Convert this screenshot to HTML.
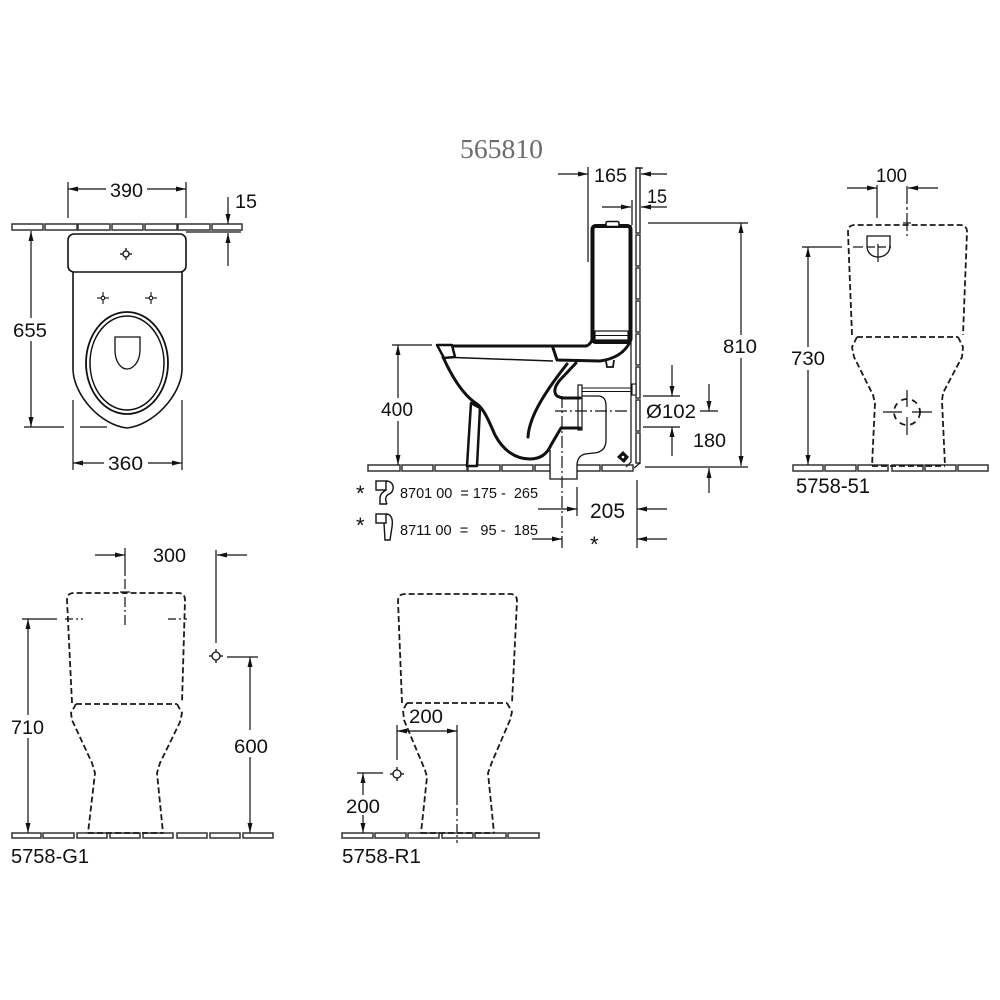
<!DOCTYPE html>
<html><head><meta charset="utf-8">
<style>
html,body{margin:0;padding:0;background:#fff;}
svg{display:block;}
text{font-family:"Liberation Sans",Arial,sans-serif;fill:#111;white-space:pre;}
.d{stroke:#111;stroke-width:1.2;fill:none;}
.ds{stroke:#1a1a1a;stroke-width:1.8;stroke-dasharray:6 3;fill:none;}
.dd{stroke:#111;stroke-width:1.2;stroke-dasharray:12 3 2 3;fill:none;}
.t{stroke:#111;stroke-width:3;fill:none;stroke-linejoin:round;stroke-linecap:round;}
.f{fill:#fff;stroke:#333;stroke-width:1.5;}
</style></head><body>
<svg width="1000" height="1000" viewBox="0 0 1000 1000" xmlns="http://www.w3.org/2000/svg">
<defs>
<marker id="ar" markerWidth="10" markerHeight="6" refX="10" refY="3" orient="auto" markerUnits="userSpaceOnUse"><path d="M0,0.5 L10,3 L0,5.5 z" fill="#111"/></marker>
</defs>

<!-- ================= PLAN VIEW (top-left) ================= -->
<g>
<rect class="f" x="12" y="224" width="31" height="6"/>
<rect class="f" x="45" y="224" width="32" height="6"/>
<rect class="f" x="78" y="224" width="32" height="6"/>
<rect class="f" x="112" y="224" width="31" height="6"/>
<rect class="f" x="145" y="224" width="32" height="6"/>
<rect class="f" x="178" y="224" width="32" height="6"/>
<rect class="f" x="212" y="224" width="30" height="6"/>
</g>
<rect x="68" y="234" width="118" height="38" rx="6" fill="#fff" stroke="#111" stroke-width="1.6"/>
<g stroke="#111" stroke-width="1.3" fill="none">
<circle cx="126" cy="254" r="3"/>
<line x1="126" y1="248" x2="126" y2="251"/><line x1="126" y1="257" x2="126" y2="260"/>
<line x1="120" y1="254" x2="123" y2="254"/><line x1="129" y1="254" x2="132" y2="254"/>
</g>
<path d="M73 272 L73 370 C74 395 100 425 127 428 C154 425 181 395 182 370 L182 272" fill="none" stroke="#111" stroke-width="1.6"/>
<ellipse cx="127" cy="363" rx="41" ry="51" fill="none" stroke="#111" stroke-width="1.8"/>
<ellipse cx="127" cy="363" rx="37" ry="47" fill="none" stroke="#111" stroke-width="1.5"/>
<path d="M115 337 L140 337 L140 350 C140 362 133 369 127 369 C121 369 115 362 115 350 Z" fill="none" stroke="#111" stroke-width="1.3"/>
<g stroke="#111" stroke-width="1.1" fill="none">
<line x1="97" y1="298" x2="109" y2="298"/><line x1="103" y1="292" x2="103" y2="304"/>
<line x1="145" y1="298" x2="157" y2="298"/><line x1="151" y1="292" x2="151" y2="304"/>
<circle cx="103" cy="298" r="1.8" fill="#fff"/><circle cx="151" cy="298" r="1.8" fill="#fff"/>
</g>
<!-- plan dims -->
<g class="d">
<line x1="68" y1="182" x2="68" y2="218"/><line x1="186" y1="182" x2="186" y2="218"/>
<line x1="106" y1="189" x2="68" y2="189" marker-end="url(#ar)"/>
<line x1="147" y1="189" x2="186" y2="189" marker-end="url(#ar)"/>
<line x1="228" y1="197" x2="228" y2="224" marker-end="url(#ar)"/>
<line x1="228" y1="266" x2="228" y2="233" marker-end="url(#ar)"/>
<line x1="186" y1="232" x2="241" y2="232"/>
<line x1="31" y1="318" x2="31" y2="231" marker-end="url(#ar)"/>
<line x1="31" y1="341" x2="31" y2="427" marker-end="url(#ar)"/>
<line x1="24" y1="427" x2="64" y2="427"/><line x1="80" y1="427" x2="107" y2="427"/>
<line x1="73" y1="400" x2="73" y2="470"/><line x1="182" y1="400" x2="182" y2="470"/>
<line x1="104" y1="463" x2="73" y2="463" marker-end="url(#ar)"/>
<line x1="148" y1="463" x2="182" y2="463" marker-end="url(#ar)"/>
</g>
<text x="110" y="197" font-size="19" textLength="33" lengthAdjust="spacingAndGlyphs">390</text>
<text x="235" y="208" font-size="19" textLength="22" lengthAdjust="spacingAndGlyphs">15</text>
<text x="13" y="337" font-size="19" textLength="34" lengthAdjust="spacingAndGlyphs">655</text>
<text x="108" y="470" font-size="19" textLength="35" lengthAdjust="spacingAndGlyphs">360</text>

<!-- ================= SIDE VIEW (middle) ================= -->
<text x="460" y="158" font-size="27" textLength="83" lengthAdjust="spacingAndGlyphs" style="font-family:'Liberation Serif',serif;fill:#6b6b6b;">565810</text>

<!-- floor -->
<g>
<rect class="f" x="368" y="465" width="32" height="6"/>
<rect class="f" x="402" y="465" width="31" height="6"/>
<rect class="f" x="435" y="465" width="32" height="6"/>
<rect class="f" x="468" y="465" width="32" height="6"/>
<rect class="f" x="502" y="465" width="31" height="6"/>
<rect class="f" x="535" y="465" width="32" height="6"/>
<rect class="f" x="568" y="465" width="32" height="6"/>
<rect class="f" x="602" y="465" width="31" height="6"/>
</g>
<!-- wall -->
<g>
<rect class="f" x="636" y="168" width="4" height="65"/>
<rect class="f" x="636" y="235" width="4" height="31"/>
<rect class="f" x="636" y="268" width="4" height="31"/>
<rect class="f" x="636" y="301" width="4" height="31"/>
<rect class="f" x="636" y="334" width="4" height="31"/>
<rect class="f" x="636" y="367" width="4" height="31"/>
<rect class="f" x="636" y="400" width="4" height="31"/>
<rect class="f" x="636" y="433" width="4" height="30"/>
<line x1="636" y1="168" x2="643" y2="168" stroke="#111" stroke-width="1.2"/>
<path d="M631 225 L631 462 L626 467 M640 463 L634 468" fill="none" stroke="#111" stroke-width="1.2"/>
</g>
<!-- pipe to wall -->
<g stroke="#111" stroke-width="1.1" fill="none">
<line x1="582" y1="388" x2="633" y2="388"/>
<line x1="582" y1="391.5" x2="633" y2="391.5"/>
<rect x="632" y="384" width="4" height="11" fill="#fff"/>
</g>
<!-- outlet connector -->
<path d="M582 396 L598 396 Q606 396 606 406 L606 440 Q606 452 594 453 L585 454 Q577 456 577 466 L577 479 L550 479 L550 450" fill="#fff" stroke="#111" stroke-width="1.3"/>
<rect x="578" y="385" width="4" height="45" fill="#fff" stroke="#111" stroke-width="1.2"/>
<!-- drop symbol -->
<path d="M617 457 L623 451 L629 457 L624 463 Z" fill="#111"/>
<circle cx="623" cy="457" r="1.3" fill="#fff"/>
<!-- tank -->
<rect x="592.5" y="226" width="38" height="116" rx="3" fill="#fff" stroke="#111" stroke-width="4"/>
<rect x="606" y="221.5" width="13" height="5" rx="1.5" fill="#fff" stroke="#111" stroke-width="1.5"/>
<rect x="595" y="331" width="33" height="9" fill="#fff" stroke="#111" stroke-width="1.2"/>
<line x1="595" y1="335.5" x2="628" y2="335.5" stroke="#111" stroke-width="1"/>
<!-- cistern base / rim -->
<path class="t" d="M438 346 L586 346 Q590 345 592 340"/>
<path class="t" d="M553 348 L557 360 L600 361 Q622 358 630 342"/>
<path d="M606 361 L607 367 L613 367 L614 360" fill="none" stroke="#111" stroke-width="1.8"/>
<polygon points="437,345 452,345 455,357 444,358" fill="#fff" stroke="#111" stroke-width="2.5" stroke-linejoin="round"/>
<line x1="454" y1="357.5" x2="553" y2="361" stroke="#111" stroke-width="1.5"/>
<!-- bowl -->
<path class="t" d="M443 357 C452 377 463 395 477 404 C485 410 490 424 495 435 C503 450 515 459 530 459 C542 459 548 452 551 445 L561 428 L580 428"/>
<polygon points="471,403 480,408 477,466 467,466" fill="#fff" stroke="#111" stroke-width="2.5" stroke-linejoin="round"/>
<path class="t" d="M528 437 C529 420 540 398 567 364"/>
<path class="t" d="M576 363 L560 380 C555 386 553 392 557 396 L562 398 L580 398"/>
<!-- center lines -->
<line class="dd" x1="555" y1="411" x2="627" y2="411"/>
<line class="dd" x1="562" y1="396" x2="562" y2="548"/>
<!-- side dims -->
<g class="d">
<line x1="392" y1="345" x2="432" y2="345"/>
<line x1="398" y1="398" x2="398" y2="345" marker-end="url(#ar)"/>
<line x1="398" y1="421" x2="398" y2="465" marker-end="url(#ar)"/>
<line x1="588" y1="167" x2="588" y2="262"/>
<line x1="558" y1="174" x2="588" y2="174" marker-end="url(#ar)"/>
<line x1="667" y1="174" x2="641" y2="174" marker-end="url(#ar)"/>
<line x1="632" y1="200" x2="632" y2="225"/>
<line x1="602" y1="207" x2="631" y2="207" marker-end="url(#ar)"/>
<line x1="667" y1="207" x2="641" y2="207" marker-end="url(#ar)"/>
<line x1="648" y1="223" x2="748" y2="223"/>
<line x1="741" y1="335" x2="741" y2="223" marker-end="url(#ar)"/>
<line x1="741" y1="358" x2="741" y2="466" marker-end="url(#ar)"/>
<line x1="645" y1="467" x2="748" y2="467"/>
<line x1="643" y1="396" x2="680" y2="396"/>
<line x1="643" y1="427" x2="680" y2="427"/>
<line x1="672" y1="365" x2="672" y2="396" marker-end="url(#ar)"/>
<line x1="672" y1="456" x2="672" y2="427" marker-end="url(#ar)"/>
<line x1="709" y1="384" x2="709" y2="411" marker-end="url(#ar)"/>
<line x1="700" y1="411" x2="718" y2="411"/>
<line x1="709" y1="493" x2="709" y2="468" marker-end="url(#ar)"/>
<line x1="577" y1="487" x2="577" y2="516"/>
<line x1="637" y1="480" x2="637" y2="548"/>
<line x1="538" y1="509" x2="577" y2="509" marker-end="url(#ar)"/>
<line x1="667" y1="509" x2="637" y2="509" marker-end="url(#ar)"/>
<line x1="532" y1="539" x2="562" y2="539" marker-end="url(#ar)"/>
<line x1="667" y1="539" x2="637" y2="539" marker-end="url(#ar)"/>
</g>
<text x="594" y="182" font-size="19" textLength="33" lengthAdjust="spacingAndGlyphs">165</text>
<text x="647" y="203" font-size="19" textLength="20" lengthAdjust="spacingAndGlyphs">15</text>
<text x="723" y="353" font-size="19" textLength="34" lengthAdjust="spacingAndGlyphs">810</text>
<text x="646" y="418" font-size="19" textLength="50" lengthAdjust="spacingAndGlyphs">Ø102</text>
<text x="693" y="447" font-size="19" textLength="33" lengthAdjust="spacingAndGlyphs">180</text>
<text x="381" y="416" font-size="19" textLength="32" lengthAdjust="spacingAndGlyphs">400</text>
<text x="590" y="518" font-size="21" textLength="35" lengthAdjust="spacingAndGlyphs">205</text>
<text x="590" y="552" font-size="22">*</text>
<!-- legend -->
<text x="356" y="501" font-size="22">*</text>
<text x="356" y="533" font-size="22">*</text>
<g fill="none" stroke="#111" stroke-width="1.4">
<rect x="376" y="481" width="10" height="9" fill="#fff"/>
<path d="M386 481 C395 481 395 492 389 494 C385 496 385 500 387 504 M386 490 C383 492 380 494 380 498 L380 504 L387 504"/>
<rect x="376" y="514" width="10" height="9" fill="#fff"/>
<path d="M386 514 C392 514 393 520 392 527 L390 540 L385 540 L384 523"/>
</g>
<text x="400" y="498" font-size="15" textLength="138" lengthAdjust="spacingAndGlyphs">8701 00  = 175 -  265</text>
<text x="400" y="535" font-size="15" textLength="138" lengthAdjust="spacingAndGlyphs">8711 00  =   95 -  185</text>

<!-- ================= 5758-51 (right) ================= -->
<g>
<rect class="f" x="793" y="465" width="30" height="6"/>
<rect class="f" x="825" y="465" width="31" height="6"/>
<rect class="f" x="858" y="465" width="30" height="6"/>
<rect class="f" x="892" y="465" width="31" height="6"/>
<rect class="f" x="925" y="465" width="31" height="6"/>
<rect class="f" x="958" y="465" width="30" height="6"/>
</g>
<g class="ds">
<path d="M852 335 L848 232 Q848 225 855 225 L960 225 Q967 225 967 232 L963 335"/>
<path d="M857 337 L958 337"/>
<path d="M857 337 L852 347 L854 357 L873 395 L875 403 L872 466"/>
<path d="M958 337 L963 347 L962 357 L943 393 L942 401 L945 466"/>
<path d="M872 466 L945 466"/>
<circle cx="907" cy="412" r="13" stroke-dasharray="6 5"/>
</g>
<path d="M867 236 L890 236 L890 246 C890 253 884 257 878 257 C872 257 867 253 867 246 Z" fill="none" stroke="#111" stroke-width="1.3"/>
<g class="d">
<line x1="853" y1="247" x2="863" y2="247"/>
<line x1="867" y1="247" x2="891" y2="247" stroke-dasharray="8 3"/>
<line x1="878" y1="244" x2="878" y2="262"/>
<line x1="877" y1="185" x2="877" y2="218"/>
<line x1="907" y1="186" x2="907" y2="236" stroke-dasharray="18 3 3 3"/>
<line x1="903" y1="223" x2="911" y2="223"/>
<line x1="847" y1="188" x2="877" y2="188" marker-end="url(#ar)"/>
<line x1="938" y1="188" x2="908" y2="188" marker-end="url(#ar)"/>
<line x1="802" y1="247" x2="842" y2="247"/>
<line x1="808" y1="347" x2="808" y2="247" marker-end="url(#ar)"/>
<line x1="808" y1="370" x2="808" y2="465" marker-end="url(#ar)"/>
<line x1="907" y1="390" x2="907" y2="407"/><line x1="907" y1="417" x2="907" y2="435"/>
<line x1="883" y1="412" x2="902" y2="412"/><line x1="912" y1="412" x2="932" y2="412"/>
</g>
<text x="876" y="182" font-size="19" textLength="31" lengthAdjust="spacingAndGlyphs">100</text>
<text x="791" y="365" font-size="19" textLength="34" lengthAdjust="spacingAndGlyphs">730</text>
<text x="796" y="493" font-size="21" textLength="74" lengthAdjust="spacingAndGlyphs">5758-51</text>

<!-- ================= 5758-G1 (bottom left) ================= -->
<g>
<rect class="f" x="12" y="833" width="29" height="5"/>
<rect class="f" x="43" y="833" width="31" height="5"/>
<rect class="f" x="77" y="833" width="30" height="5"/>
<rect class="f" x="110" y="833" width="30" height="5"/>
<rect class="f" x="143" y="833" width="30" height="5"/>
<rect class="f" x="177" y="833" width="30" height="5"/>
<rect class="f" x="210" y="833" width="30" height="5"/>
<rect class="f" x="243" y="833" width="30" height="5"/>
</g>
<g class="ds">
<path d="M72 703 L67 600 Q67 593 74 593 L178 593 Q185 593 185 600 L182 703"/>
<path d="M76 704 L177 704"/>
<path d="M76 704 L71 713 L72 720 L92 763 L95 773 L88 833"/>
<path d="M177 704 L182 713 L180 722 L160 763 L157 773 L163 833"/>
<path d="M88 833 L163 833"/>
</g>
<g class="d">
<line x1="125" y1="548" x2="125" y2="576"/>
<line x1="125" y1="579" x2="125" y2="628" stroke-dasharray="10 3 2 3"/>
<line x1="120" y1="592" x2="130" y2="592"/>
<line x1="95" y1="555" x2="125" y2="555" marker-end="url(#ar)"/>
<line x1="216" y1="550" x2="216" y2="643"/>
<line x1="247" y1="555" x2="217" y2="555" marker-end="url(#ar)"/>
<line x1="227" y1="657" x2="258" y2="657"/>
<line x1="250" y1="730" x2="250" y2="657" marker-end="url(#ar)"/>
<line x1="250" y1="757" x2="250" y2="833" marker-end="url(#ar)"/>
<line x1="22" y1="619" x2="57" y2="619"/>
<line x1="65" y1="619" x2="83" y2="619" stroke-dasharray="8 3 2 3"/>
<line x1="168" y1="619" x2="187" y2="619" stroke-dasharray="8 3 2 3"/>
<line x1="28" y1="715" x2="28" y2="619" marker-end="url(#ar)"/>
<line x1="28" y1="738" x2="28" y2="833" marker-end="url(#ar)"/>
</g>
<g stroke="#111" stroke-width="1.3" fill="#fff">
<circle cx="216" cy="656" r="4"/>
<line x1="216" y1="649" x2="216" y2="652"/><line x1="216" y1="660" x2="216" y2="663"/>
<line x1="209" y1="656" x2="212" y2="656"/><line x1="220" y1="656" x2="223" y2="656"/>
</g>
<text x="153" y="562" font-size="19" textLength="33" lengthAdjust="spacingAndGlyphs">300</text>
<text x="11" y="734" font-size="19" textLength="33" lengthAdjust="spacingAndGlyphs">710</text>
<text x="234" y="753" font-size="19" textLength="34" lengthAdjust="spacingAndGlyphs">600</text>
<text x="11" y="863" font-size="20" textLength="78" lengthAdjust="spacingAndGlyphs">5758-G1</text>

<!-- ================= 5758-R1 (bottom middle) ================= -->
<g>
<rect class="f" x="342" y="833" width="31" height="5"/>
<rect class="f" x="375" y="833" width="31" height="5"/>
<rect class="f" x="408" y="833" width="31" height="5"/>
<rect class="f" x="442" y="833" width="31" height="5"/>
<rect class="f" x="475" y="833" width="31" height="5"/>
<rect class="f" x="508" y="833" width="31" height="5"/>
</g>
<g class="ds">
<path d="M402 703 L398 601 Q398 594 405 594 L510 594 Q517 594 517 601 L512 703"/>
<path d="M407 703 L507 703"/>
<path d="M407 703 L403 710 L404 720 L425 770 L427 777 L421 833"/>
<path d="M507 703 L512 712 L510 720 L492 762 L488 773 L494 833"/>
<path d="M421 833 L494 833"/>
</g>
<g class="d">
<line x1="397" y1="725" x2="397" y2="760"/>
<line x1="457" y1="725" x2="457" y2="805"/>
<line x1="457" y1="808" x2="457" y2="843" stroke-dasharray="8 3 2 3"/>
<line x1="427" y1="731" x2="397" y2="731" marker-end="url(#ar)"/>
<line x1="427" y1="731" x2="457" y2="731" marker-end="url(#ar)"/>
<line x1="357" y1="773" x2="383" y2="773"/>
<line x1="363" y1="795" x2="363" y2="773" marker-end="url(#ar)"/>
<line x1="363" y1="815" x2="363" y2="833" marker-end="url(#ar)"/>
</g>
<g stroke="#111" stroke-width="1.3" fill="#fff">
<circle cx="397" cy="774" r="4"/>
<line x1="397" y1="767" x2="397" y2="770"/><line x1="397" y1="778" x2="397" y2="781"/>
<line x1="390" y1="774" x2="393" y2="774"/><line x1="401" y1="774" x2="404" y2="774"/>
</g>
<text x="409" y="723" font-size="19" textLength="34" lengthAdjust="spacingAndGlyphs">200</text>
<text x="346" y="813" font-size="19" textLength="34" lengthAdjust="spacingAndGlyphs">200</text>
<text x="342" y="863" font-size="20" textLength="79" lengthAdjust="spacingAndGlyphs">5758-R1</text>
</svg>
</body></html>
